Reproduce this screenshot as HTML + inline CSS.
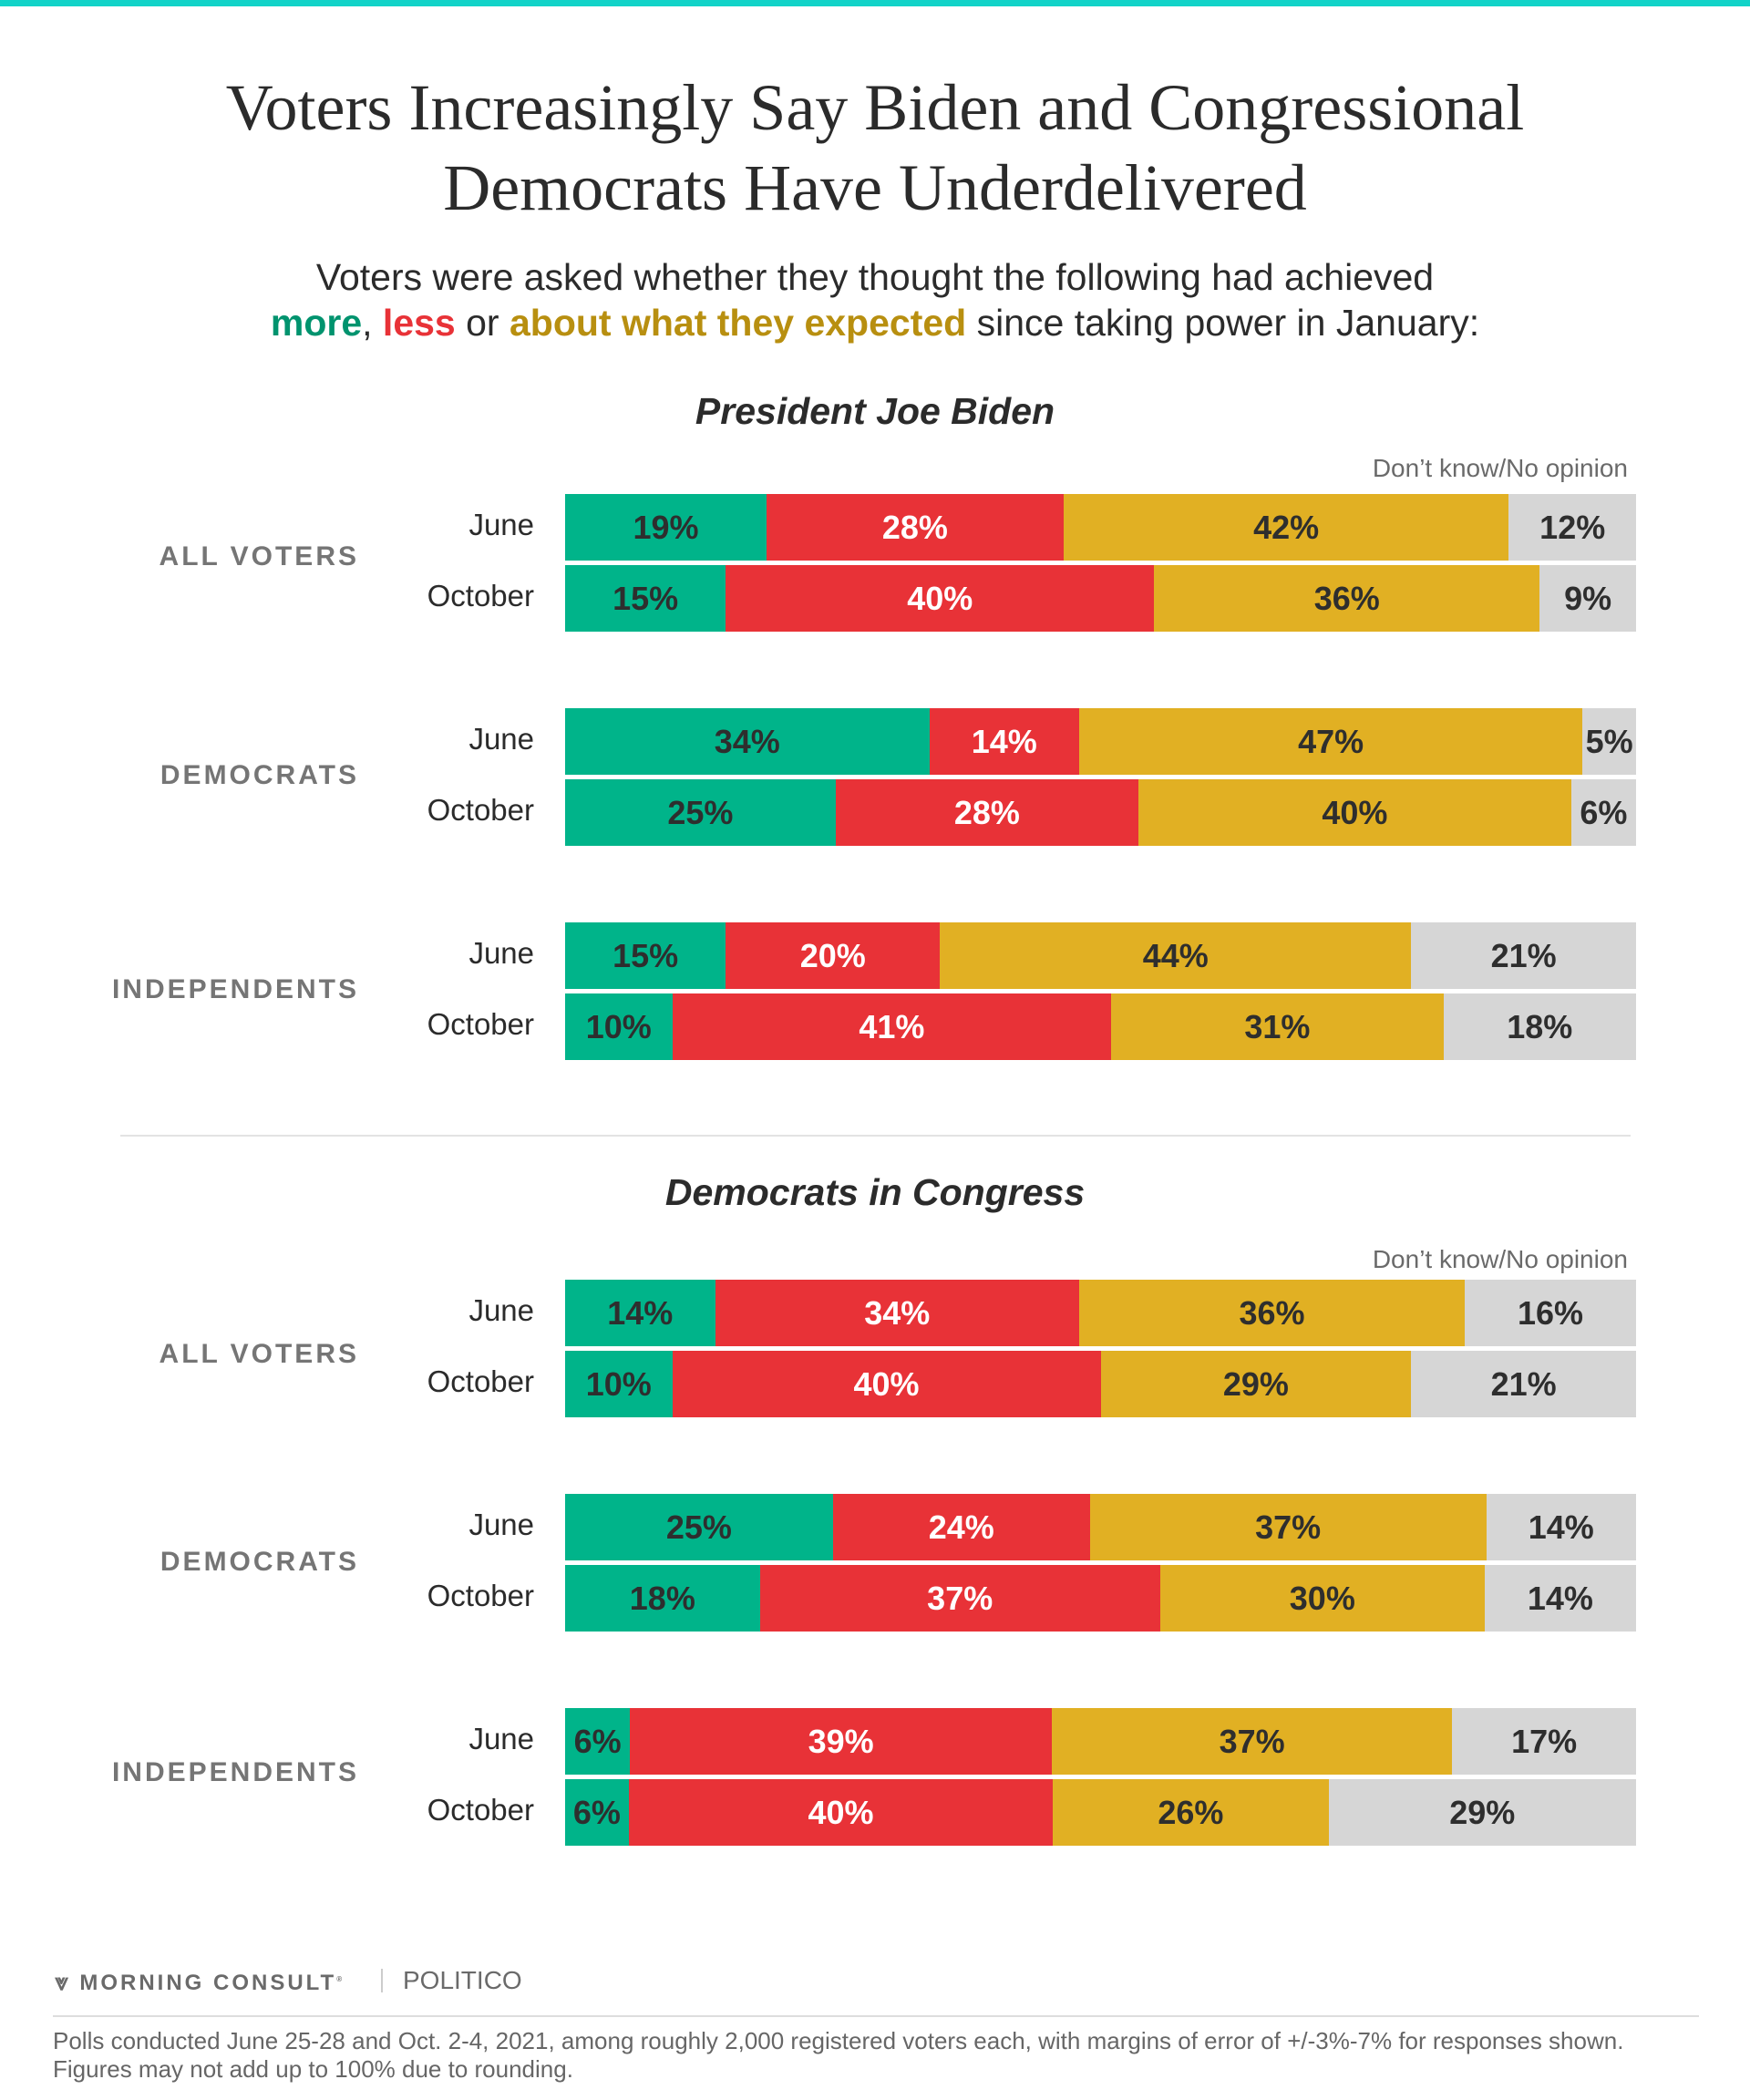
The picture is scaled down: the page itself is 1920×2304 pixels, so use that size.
<!DOCTYPE html>
<html><head><meta charset="utf-8"><style>
body{margin:0;width:1920px;height:2304px;background:#fff;position:relative;overflow:hidden;font-family:"Liberation Sans",sans-serif;color:#2b2b2b}
.abs{position:absolute}
.top{left:0;top:0;width:1920px;height:7px;background:#12d3c8}
.title{left:0;width:1920px;text-align:center;font-family:"Liberation Serif",serif;font-size:72px;line-height:88px;top:74px;color:#2b2b2b}
.sub{left:0;width:1920px;text-align:center;font-size:41px;line-height:50px;top:279px;color:#2b2b2b}
.sec{left:0;width:1920px;text-align:center;font-size:41px;font-weight:bold;font-style:italic;color:#2b2b2b}
.dk{right:134px;font-size:28px;color:#6a6a6a}
.bar{left:620px;width:1175px;height:73px;display:flex}
.bar div{height:100%;display:flex;align-items:center;justify-content:center;font-weight:bold;font-size:36px;color:#2e2e2e;white-space:nowrap;overflow:visible}
.g{background:#00b48a}.r{background:#e83237;color:#fff!important}.y{background:#e1b023}.k{background:#d6d6d6}
.rl{right:1334px;font-size:33px;color:#2b2b2b;text-align:right}
.gl{right:1526px;font-size:30px;font-weight:bold;letter-spacing:3px;color:#757575;text-align:right}
</style></head><body>
<div class="abs top"></div>
<div class="abs title">Voters Increasingly Say Biden and Congressional<br>Democrats Have Underdelivered</div>
<div class="abs sub">Voters were asked whether they thought the following had achieved<br><b style="color:#00936e">more</b>, <b style="color:#e83237">less</b> or <b style="color:#b88f10">about what they expected</b> since taking power in January:</div>

<div class="abs sec" style="top:428px">President Joe Biden</div>
<div class="abs dk" style="top:498px">Don’t know/No opinion</div>

<div class="abs gl" style="top:594px">ALL VOTERS</div>
<div class="abs rl" style="top:557px">June</div>
<div class="abs rl" style="top:635px">October</div>
<div class="abs bar" style="top:542px"><div class="g" style="flex:19">19%</div><div class="r" style="flex:28">28%</div><div class="y" style="flex:42">42%</div><div class="k" style="flex:12">12%</div></div>
<div class="abs bar" style="top:620px"><div class="g" style="flex:15">15%</div><div class="r" style="flex:40">40%</div><div class="y" style="flex:36">36%</div><div class="k" style="flex:9">9%</div></div>

<div class="abs gl" style="top:834px">DEMOCRATS</div>
<div class="abs rl" style="top:792px">June</div>
<div class="abs rl" style="top:870px">October</div>
<div class="abs bar" style="top:777px"><div class="g" style="flex:34">34%</div><div class="r" style="flex:14">14%</div><div class="y" style="flex:47">47%</div><div class="k" style="flex:5">5%</div></div>
<div class="abs bar" style="top:855px"><div class="g" style="flex:25">25%</div><div class="r" style="flex:28">28%</div><div class="y" style="flex:40">40%</div><div class="k" style="flex:6">6%</div></div>

<div class="abs gl" style="top:1069px">INDEPENDENTS</div>
<div class="abs rl" style="top:1027px">June</div>
<div class="abs rl" style="top:1105px">October</div>
<div class="abs bar" style="top:1012px"><div class="g" style="flex:15">15%</div><div class="r" style="flex:20">20%</div><div class="y" style="flex:44">44%</div><div class="k" style="flex:21">21%</div></div>
<div class="abs bar" style="top:1090px"><div class="g" style="flex:10">10%</div><div class="r" style="flex:41">41%</div><div class="y" style="flex:31">31%</div><div class="k" style="flex:18">18%</div></div>

<div class="abs" style="left:132px;top:1245px;width:1657px;height:2px;background:#e3e3e3"></div>

<div class="abs sec" style="top:1285px">Democrats in Congress</div>
<div class="abs dk" style="top:1366px">Don’t know/No opinion</div>

<div class="abs gl" style="top:1469px">ALL VOTERS</div>
<div class="abs rl" style="top:1419px">June</div>
<div class="abs rl" style="top:1497px">October</div>
<div class="abs bar" style="top:1404px"><div class="g" style="flex:14">14%</div><div class="r" style="flex:34">34%</div><div class="y" style="flex:36">36%</div><div class="k" style="flex:16">16%</div></div>
<div class="abs bar" style="top:1482px"><div class="g" style="flex:10">10%</div><div class="r" style="flex:40">40%</div><div class="y" style="flex:29">29%</div><div class="k" style="flex:21">21%</div></div>

<div class="abs gl" style="top:1697px">DEMOCRATS</div>
<div class="abs rl" style="top:1654px">June</div>
<div class="abs rl" style="top:1732px">October</div>
<div class="abs bar" style="top:1639px"><div class="g" style="flex:25">25%</div><div class="r" style="flex:24">24%</div><div class="y" style="flex:37">37%</div><div class="k" style="flex:14">14%</div></div>
<div class="abs bar" style="top:1717px"><div class="g" style="flex:18">18%</div><div class="r" style="flex:37">37%</div><div class="y" style="flex:30">30%</div><div class="k" style="flex:14">14%</div></div>

<div class="abs gl" style="top:1928px">INDEPENDENTS</div>
<div class="abs rl" style="top:1889px">June</div>
<div class="abs rl" style="top:1967px">October</div>
<div class="abs bar" style="top:1874px"><div class="g" style="flex:6">6%</div><div class="r" style="flex:39">39%</div><div class="y" style="flex:37">37%</div><div class="k" style="flex:17">17%</div></div>
<div class="abs bar" style="top:1952px"><div class="g" style="flex:6">6%</div><div class="r" style="flex:40">40%</div><div class="y" style="flex:26">26%</div><div class="k" style="flex:29">29%</div></div>

<div class="abs" style="left:60px;top:2159px;font-size:24px;font-weight:bold;letter-spacing:3px;color:#6a6a6a"><span style="font-size:26px">&#x2A54;</span> MORNING CONSULT<sup style="font-size:8px">®</sup></div>
<div class="abs" style="left:418px;top:2160px;width:2px;height:26px;background:#ccc"></div>
<div class="abs" style="left:442px;top:2157px;font-size:28px;color:#6a6a6a">POLITICO</div>
<div class="abs" style="left:58px;top:2211px;width:1806px;height:2px;background:#ddd"></div>
<div class="abs" style="left:58px;top:2224px;font-size:26px;line-height:31px;color:#666">Polls conducted June 25-28 and Oct. 2-4, 2021, among roughly 2,000 registered voters each, with margins of error of +/-3%-7% for responses shown.<br>Figures may not add up to 100% due to rounding.</div>
</body></html>
